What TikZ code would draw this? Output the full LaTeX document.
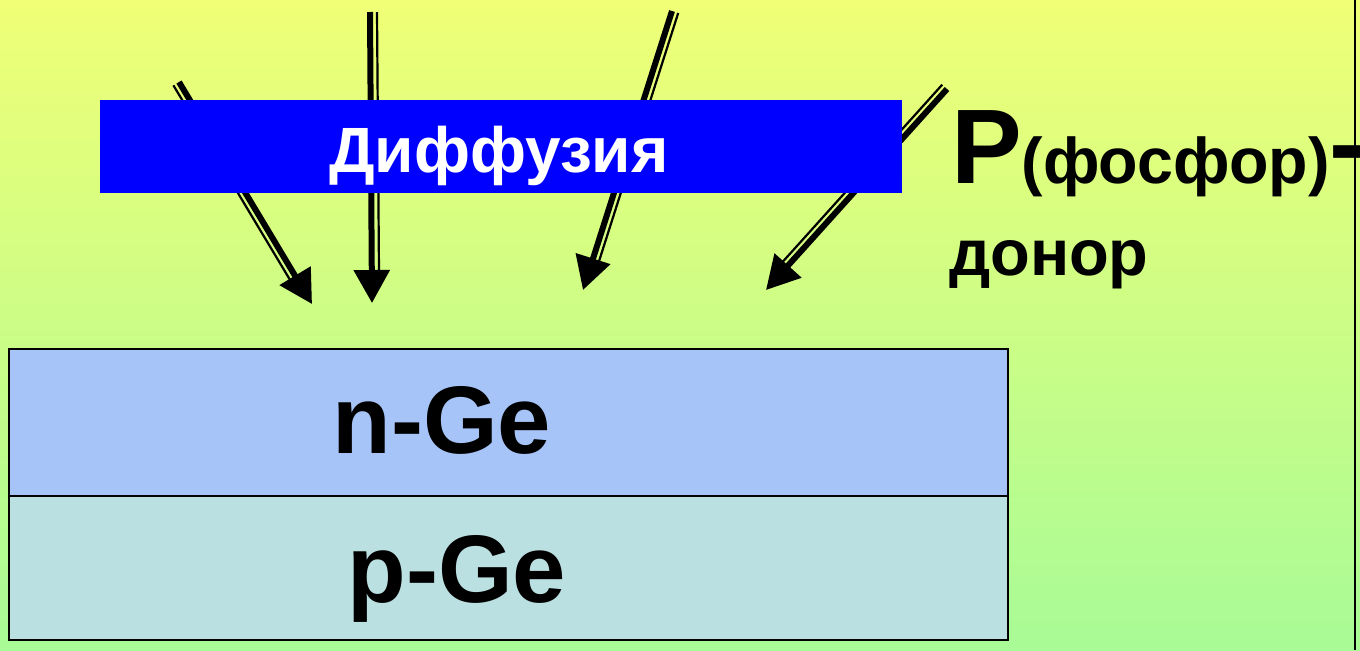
\documentclass[tikz,border=0pt]{standalone}
\usepackage{fontspec}
\setmainfont{Liberation Sans}
\usetikzlibrary{arrows.meta}
\definecolor{bgtop}{RGB}{240,255,118}
\definecolor{bgbot}{RGB}{168,251,150}
\definecolor{nfill}{RGB}{166,196,248}
\definecolor{pfill}{RGB}{187,224,226}
\tikzset{
  mainshaft/.style={line width=3pt, -{Triangle[length=16.5pt,width=17.5pt]}},
  sideshaft/.style={line width=1.1pt},
  layerbox/.style={draw=black, line width=1pt, inner sep=0pt, outer sep=0pt, minimum width=499.5pt},
  bluebox/.style={fill=blue, inner sep=0pt, outer sep=0pt, minimum width=401pt, minimum height=46.5pt},
  lbl/.style={inner sep=0pt, outer sep=0pt}
}
\begin{document}
\begin{tikzpicture}[x=0.5pt,y=-0.5pt]
\useasboundingbox (0,0) rectangle (1360,650);
\shade[top color=bgtop, bottom color=bgbot] (0,0) rectangle (1360,650);

% arrow 1
\coordinate (a1s) at (179,82);
\coordinate (a1t) at (312,304);
\coordinate (a1u) at (173.4,85.3);
\coordinate (a1v) at (290.5,280.7);
% arrow 2
\coordinate (a2s) at (370,12);
\coordinate (a2t) at (372,303);
\coordinate (a2u) at (377,12);
\coordinate (a2v) at (379,272);
% arrow 3
\coordinate (a3s) at (672,11);
\coordinate (a3t) at (583,290);
\coordinate (a3u) at (678.2,13);
\coordinate (a3v) at (598.6,262.5);
% arrow 4
\coordinate (a4s) at (947,89);
\coordinate (a4t) at (766,290);
\coordinate (a4u) at (942.2,84.7);
\coordinate (a4v) at (781.9,262.7);

\draw[sideshaft] (a1u) -- (a1v);
\draw[mainshaft] (a1s) -- (a1t);
\draw[sideshaft] (a2u) -- (a2v);
\draw[mainshaft] (a2s) -- (a2t);
\draw[sideshaft] (a3u) -- (a3v);
\draw[mainshaft] (a3s) -- (a3t);
\draw[sideshaft] (a4u) -- (a4v);
\draw[mainshaft] (a4s) -- (a4t);

\node[bluebox] (diffbox) at (501,146.5) {};
\node[lbl, anchor=base, text=white, font=\fontsize{32}{32}\bfseries\selectfont] (difftext) at (499,172) {Диффузия};

\node[layerbox, fill=nfill, minimum height=73.5pt] (nlayer) at (508.5,422.5) {};
\node[layerbox, fill=pfill, minimum height=72pt] (player) at (508.5,568) {};
\node[lbl, anchor=base, font=\fontsize{48}{48}\bfseries\selectfont] (ntext) at (442,453) {n-Ge};
\node[lbl, anchor=base, font=\fontsize{48}{48}\bfseries\selectfont] (ptext) at (457,602) {p-Ge};

\node[lbl, anchor=base west, font=\bfseries] (phos) at (951,183) {\fontsize{53}{53}\selectfont P\fontsize{32.3}{32.3}\selectfont(фосфор)\fontsize{53}{53}\selectfont\raisebox{2pt}{-}};
\node[lbl, anchor=base west, font=\fontsize{32.5}{32.5}\bfseries\selectfont] (donor) at (949,275) {донор};

\coordinate (rtop) at (1355,0);
\coordinate (rbot) at (1355,650);
\draw[line width=1pt] (rtop) -- (rbot);
\end{tikzpicture}
\end{document}
